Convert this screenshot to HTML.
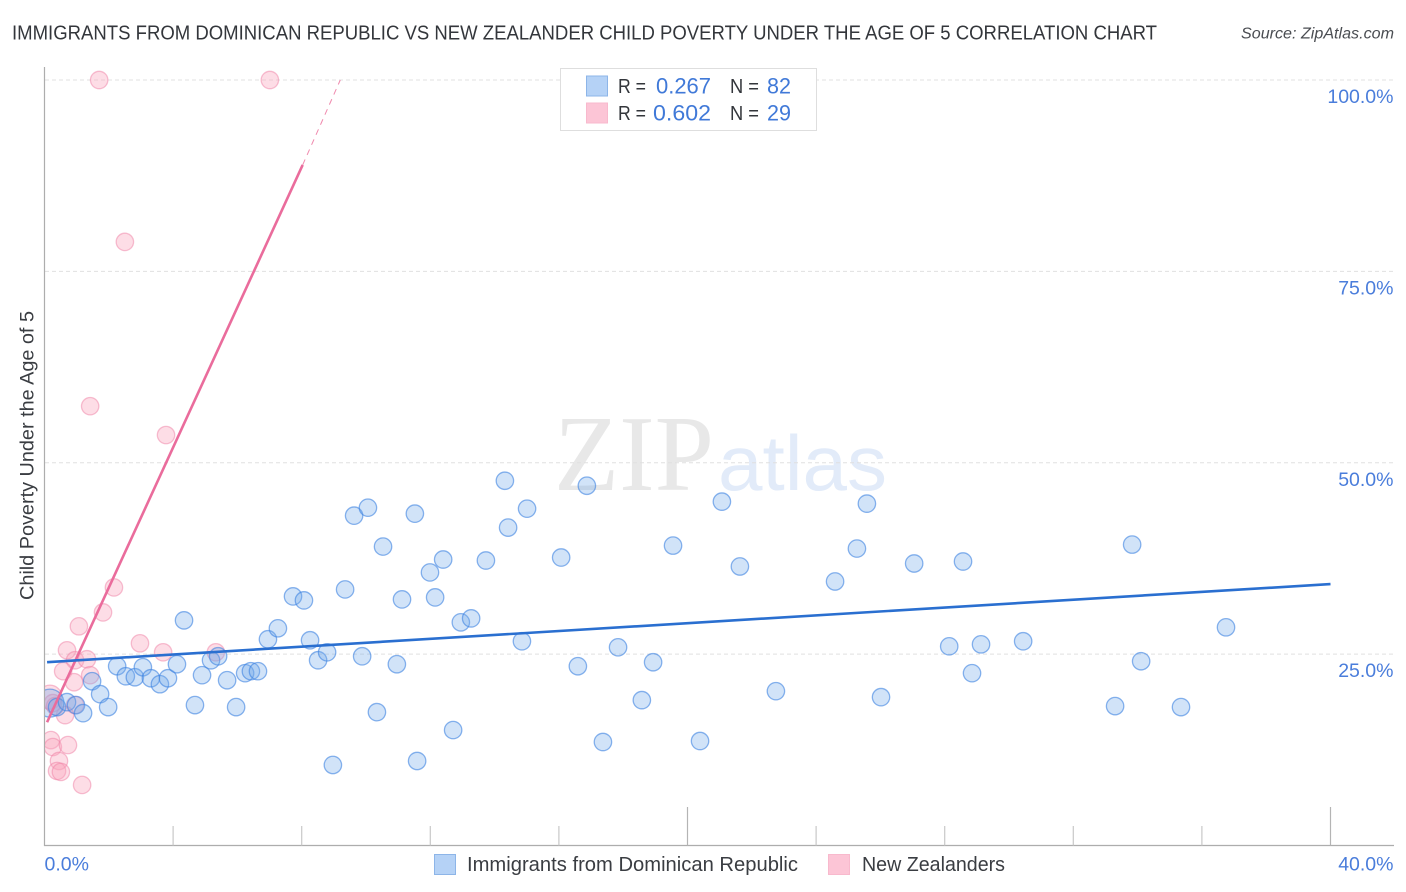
<!DOCTYPE html>
<html lang="en">
<head>
<meta charset="utf-8">
<title>Immigrants from Dominican Republic vs New Zealander Child Poverty Correlation Chart</title>
<style>
html,body{margin:0;padding:0;background:#fff;}
svg{display:block;font-family:"Liberation Sans",sans-serif;}
</style>
</head>
<body>
<svg id="chart" xmlns="http://www.w3.org/2000/svg" width="1406" height="892" viewBox="0 0 1406 892">
  <defs>
    <clipPath id="plot-clip"><rect x="45" y="60" width="1350" height="786"/></clipPath>
  </defs>
  <text x="12" y="39.5" font-size="20" fill="#33363b" textLength="1145" lengthAdjust="spacingAndGlyphs">IMMIGRANTS FROM DOMINICAN REPUBLIC VS NEW ZEALANDER CHILD POVERTY UNDER THE AGE OF 5 CORRELATION CHART</text>
  <text x="1241" y="38.5" font-size="15.5" font-style="italic" fill="#4a4d52" textLength="153" lengthAdjust="spacingAndGlyphs">Source: ZipAtlas.com</text>

  <g id="watermark">
    <text x="554" y="490" font-family="'Liberation Serif',serif" font-size="108" fill="#e8e8e8" textLength="160" lengthAdjust="spacingAndGlyphs">ZIP</text>
    <text x="718" y="490" font-size="78" fill="#e2ebf9" textLength="169" lengthAdjust="spacingAndGlyphs">atlas</text>
  </g>

  <g id="grid"></g>
  <g id="axes"></g>
  <g id="points" clip-path="url(#plot-clip)"></g>
  <g id="trends"></g>
  <g id="labels"></g>

  <text transform="translate(33.5,455.5) rotate(-90)" text-anchor="middle" font-size="19" fill="#3a3d42" textLength="289" lengthAdjust="spacingAndGlyphs">Child Poverty Under the Age of 5</text>

  <g>
    <rect x="560.5" y="68.5" width="256" height="62" fill="#fff" stroke="#dedede" stroke-width="1"/>
    <rect x="586.5" y="76" width="21" height="20" fill="#b5d2f6" stroke="#8db5e8" stroke-width="1"/>
    <rect x="586.5" y="103" width="21" height="20" fill="#fcc5d6" stroke="#f8b9cd" stroke-width="1"/>
    <text x="618" y="93" font-size="20" fill="#33363b" textLength="28" lengthAdjust="spacingAndGlyphs">R =</text>
    <text x="656" y="93.5" font-size="22" fill="#4079d8" textLength="55" lengthAdjust="spacingAndGlyphs">0.267</text>
    <text x="730" y="93" font-size="20" fill="#33363b" textLength="29" lengthAdjust="spacingAndGlyphs">N =</text>
    <text x="767" y="93.5" font-size="22" fill="#4079d8" textLength="24" lengthAdjust="spacingAndGlyphs">82</text>
    <text x="618" y="120" font-size="20" fill="#33363b" textLength="28" lengthAdjust="spacingAndGlyphs">R =</text>
    <text x="653" y="120.5" font-size="22" fill="#4079d8" textLength="58" lengthAdjust="spacingAndGlyphs">0.602</text>
    <text x="730" y="120" font-size="20" fill="#33363b" textLength="29" lengthAdjust="spacingAndGlyphs">N =</text>
    <text x="767" y="120.5" font-size="22" fill="#4079d8" textLength="24" lengthAdjust="spacingAndGlyphs">29</text>
  </g>

  <g>
    <rect x="434.5" y="854.5" width="21" height="20" fill="#b5d2f6" stroke="#8db5e8" stroke-width="1"/>
    <text x="467" y="871" font-size="20" fill="#3a3d42" textLength="331" lengthAdjust="spacingAndGlyphs">Immigrants from Dominican Republic</text>
    <rect x="828.5" y="854.5" width="21" height="20" fill="#fcc5d6" stroke="#f8b9cd" stroke-width="1"/>
    <text x="862" y="871" font-size="20" fill="#3a3d42" textLength="143" lengthAdjust="spacingAndGlyphs">New Zealanders</text>
  </g>
</svg>
<script>
const yTickValues = [25, 50, 75, 100];
const yTickLabels = ['25.0%', '50.0%', '75.0%', '100.0%'];
const xTickValues = [0, 4, 8, 12, 16, 20, 24, 28, 32, 36, 40];
const xMajorTicks = [20, 40];
const xEdgeLabels = ['0.0%', '40.0%'];

const immigrantsX = [0.17,0.39,0.70,0.98,1.20,1.48,1.73,1.98,2.26,2.53,2.81,3.06,3.31,3.59,3.84,4.12,4.34,4.68,4.90,5.18,5.40,5.68,5.96,6.24,6.42,6.64,6.95,7.26,7.73,8.07,8.26,8.51,8.79,8.97,9.35,9.63,9.88,10.06,10.34,10.53,10.96,11.12,11.52,11.59,11.99,12.15,12.40,12.71,12.95,13.27,13.73,14.32,14.42,14.85,15.01,16.07,16.59,16.87,17.37,17.84,18.58,18.93,19.55,20.39,21.07,21.63,22.75,24.59,25.27,25.58,26.02,27.05,28.14,28.57,28.85,29.13,30.44,33.30,33.83,34.11,35.35,36.75];
const immigrantsY = [18.60,18.08,18.73,18.34,17.29,21.46,19.77,18.08,23.42,22.11,21.98,23.29,21.85,21.07,21.85,23.68,29.41,18.34,22.25,24.20,24.72,21.59,18.08,22.51,22.77,22.77,26.94,28.37,32.54,32.02,26.81,24.20,25.24,10.52,33.45,43.09,24.72,44.13,17.42,39.05,23.68,32.15,43.35,11.04,35.67,32.41,37.36,15.08,29.15,29.67,37.23,47.65,41.53,26.68,44.00,37.62,23.42,47.00,13.52,25.89,18.99,23.94,39.18,13.65,44.92,36.45,20.16,34.49,38.79,44.66,19.38,36.84,26.02,37.10,22.51,26.28,26.68,18.21,39.31,24.07,18.08,28.50];

const newZealandersX = [1.70,7.01,2.50,1.42,3.78,2.16,1.82,1.07,2.97,0.70,3.69,5.33,0.95,1.32,0.58,1.42,0.92,0.17,0.26,0.95,0.64,0.20,0.26,0.73,0.45,0.39,0.51,1.17,0.33];
const newZealandersY = [100.0,100.0,78.85,57.39,53.62,33.71,30.45,28.63,26.41,25.50,25.24,25.24,24.20,24.33,22.77,22.25,21.33,19.38,18.60,18.34,17.03,13.77,12.86,13.12,11.04,9.74,9.61,7.91,18.21];

const immigrantsTrendX = [0.08, 40];
const immigrantsTrendY = [23.95, 34.15];
const newZealandersTrendX = [0.08, 8.03];
const newZealandersTrendY = [16.1, 88.9];
const newZealandersProjectionX = [8.03, 9.2];
const newZealandersProjectionY = [88.9, 100];

const xScale = function (v) { return 44.5 + v * (1330.5 - 44.5) / 40; };
const yScale = function (v) { return 845.5 - v * (845.5 - 80) / 100; };
const NS = 'http://www.w3.org/2000/svg';

function make(parent, tag, attrs) {
  const el = document.createElementNS(NS, tag);
  for (const k in attrs) el.setAttribute(k, attrs[k]);
  document.getElementById(parent).appendChild(el);
  return el;
}

yTickValues.forEach(function (v, i) {
  const line = make('grid', 'line', {x1: 45, x2: 1394, y1: yScale(v), y2: yScale(v), stroke: '#e0e0e0', 'stroke-width': 1, 'stroke-dasharray': '4 3'});
  
  
  const label = make('labels', 'text', {x: 1393.5, y: yScale(v) + 23, 'text-anchor': 'end', 'font-size': 19.5, fill: '#4a7ddb'});
  label.textContent = yTickLabels[i];
  
  
});

const yAxis = make('axes', 'line', {x1: 44.5, x2: 44.5, y1: 67, y2: 846, stroke: '#adadad', 'stroke-width': 1.2});


const xAxis = make('axes', 'line', {x1: 44, x2: 1394, y1: 845.5, y2: 845.5, stroke: '#adadad', 'stroke-width': 1.2});



xTickValues.forEach(function (v) {
  if (v === 0) return;
  const major = xMajorTicks.indexOf(v) >= 0;
  const tick = make('axes', 'line', {x1: xScale(v), x2: xScale(v), y1: major ? 807 : 826, y2: 845.5, stroke: major ? '#b4b4b4' : '#c8c8c8', 'stroke-width': 1.2});
  
  
});

const xLabelLeft = make('labels', 'text', {x: xScale(0), y: 870.5, 'font-size': 19.5, fill: '#4a7ddb'});
xLabelLeft.textContent = xEdgeLabels[0];


const xLabelRight = make('labels', 'text', {x: 1393.5, y: 870.5, 'text-anchor': 'end', 'font-size': 19.5, fill: '#4a7ddb'});
xLabelRight.textContent = xEdgeLabels[1];



newZealandersX.forEach(function (v, i) {
  const r = i === 17 ? 12 : 8.7;
  const c = make('points', 'circle', {cx: xScale(v), cy: yScale(newZealandersY[i]), r: r, fill: 'rgba(250,165,190,0.38)', stroke: 'rgba(240,130,165,0.5)', 'stroke-width': 1.3});
  
  
});

immigrantsX.forEach(function (v, i) {
  const r = i === 0 ? 14 : 8.7;
  const c = make('points', 'circle', {cx: xScale(v), cy: yScale(immigrantsY[i]), r: r, fill: 'rgba(115,170,235,0.33)', stroke: 'rgba(60,130,225,0.6)', 'stroke-width': 1.3});
  
  
});

const nzTrend = make('trends', 'line', {x1: xScale(newZealandersTrendX[0]), y1: yScale(newZealandersTrendY[0]), x2: xScale(newZealandersTrendX[1]), y2: yScale(newZealandersTrendY[1]), stroke: '#ea6c9c', 'stroke-width': 2.6});


const nzProjection = make('trends', 'line', {x1: xScale(newZealandersProjectionX[0]), y1: yScale(newZealandersProjectionY[0]), x2: xScale(newZealandersProjectionX[1]), y2: yScale(newZealandersProjectionY[1]), stroke: '#f08aae', 'stroke-width': 1, 'stroke-dasharray': '6 5'});


const imTrend = make('trends', 'line', {x1: xScale(immigrantsTrendX[0]), y1: yScale(immigrantsTrendY[0]), x2: xScale(immigrantsTrendX[1]), y2: yScale(immigrantsTrendY[1]), stroke: '#2a6fd0', 'stroke-width': 2.6});


</script>
</body>
</html>
